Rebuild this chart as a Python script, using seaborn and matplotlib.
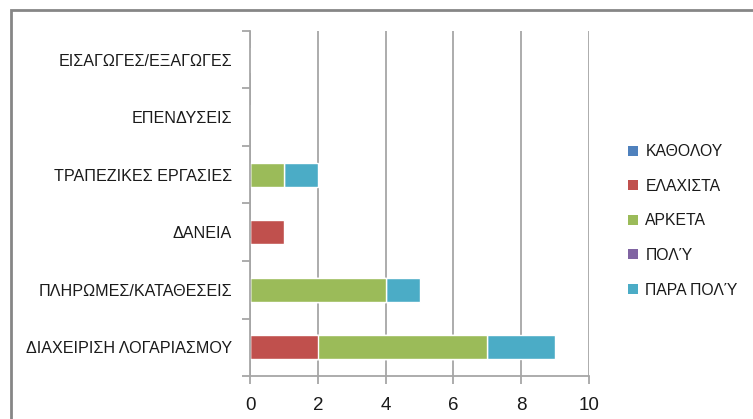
import matplotlib
matplotlib.use("Agg")
import matplotlib.pyplot as plt
from matplotlib.patches import Patch, Rectangle
from matplotlib.ticker import FixedLocator
import numpy as np
import pandas as pd
import seaborn as sns

# Services (top to bottom) and answers per rating level
categories = [
    "ΕΙΣΑΓΩΓΕΣ/ΕΞΑΓΩΓΕΣ",
    "ΕΠΕΝΔΥΣΕΙΣ",
    "ΤΡΑΠΕΖΙΚΕΣ ΕΡΓΑΣΙΕΣ",
    "ΔΑΝΕΙΑ",
    "ΠΛΗΡΩΜΕΣ/ΚΑΤΑΘΕΣΕΙΣ",
    "ΔΙΑΧΕΙΡΙΣΗ ΛΟΓΑΡΙΑΣΜΟΥ",
]
series_names = ["ΚΑΘΟΛΟΥ", "ΕΛΑΧΙΣΤΑ", "ΑΡΚΕΤΑ", "ΠΟΛΎ", "ΠΑΡΑ ΠΟΛΎ"]
katholou = [0, 0, 0, 0, 0, 0]
elaxista = [0, 0, 0, 1, 0, 2]
arketa = [0, 0, 1, 0, 4, 5]
poly = [0, 0, 0, 0, 0, 0]
para_poly = [0, 0, 1, 0, 1, 2]
x_ticks = [0, 2, 4, 6, 8, 10]

colors = ["#4F81BD", "#C0504D", "#9BBB59", "#8064A2", "#4BACC6"]

sns.set_style("white")
plt.rcParams["font.family"] = ["Liberation Sans", "DejaVu Sans"]

values = np.array([katholou, elaxista, arketa, poly, para_poly], dtype=float)
cum = np.cumsum(values, axis=0)

fig = plt.figure(figsize=(7.53, 4.19), dpi=100)
ax = fig.add_axes([250 / 753, 1 - 376 / 419, 339 / 753, 345 / 419])

# Stacked bars: draw cumulative totals from the outermost segment inward
for i in range(len(series_names) - 1, -1, -1):
    df = pd.DataFrame({"cat": categories, "val": cum[i]})
    sns.barplot(data=df, y="cat", x="val", order=categories, color=colors[i],
                saturation=1, width=0.42, ax=ax, orient="h")

ax.set_xlim(0, 10)
ax.set_ylim(len(categories) - 0.5, -0.5)
ax.set_xlabel("")
ax.set_ylabel("")
ax.set_xticks(x_ticks)
ax.set_xticklabels([str(t) for t in x_ticks], fontsize=13.5)

grid_c = "#A6A6A6"
ax.xaxis.grid(True, color=grid_c, linewidth=1.3)
ax.yaxis.grid(False)
ax.set_axisbelow(True)
for s in ["top", "right"]:
    ax.spines[s].set_visible(False)
for s in ["left", "bottom"]:
    ax.spines[s].set_color(grid_c)
    ax.spines[s].set_linewidth(1.3)

ax.tick_params(axis="x", length=6, width=1.3, color=grid_c, pad=9, bottom=True)
ax.tick_params(axis="y", which="major", length=0, pad=13, labelsize=11.6)
ax.yaxis.set_minor_locator(FixedLocator(np.arange(-0.5, len(categories), 1.0)))
ax.tick_params(axis="y", which="minor", length=6, width=1.3, color=grid_c, left=True)
for lbl in ax.get_yticklabels():
    lbl.set_color("#1a1a1a")
for lbl in ax.get_xticklabels():
    lbl.set_color("#1a1a1a")

handles = [Patch(facecolor=c, edgecolor="none") for c in colors]
fig.legend(handles, series_names, loc="upper left",
           bbox_to_anchor=(614 / 753, 1 - 130 / 419), frameon=False,
           fontsize=11.3, handlelength=0.6, handleheight=0.6,
           handletextpad=0.5, labelspacing=1.25, labelcolor="#1a1a1a")

# Outer chart frame
fig.add_artist(Rectangle((11 / 753, -0.05), 1.0, 1 - 10.5 / 419 + 0.05,
                         transform=fig.transFigure, fill=False,
                         edgecolor="#868686", linewidth=2))

fig.savefig("out.png", dpi=100)
